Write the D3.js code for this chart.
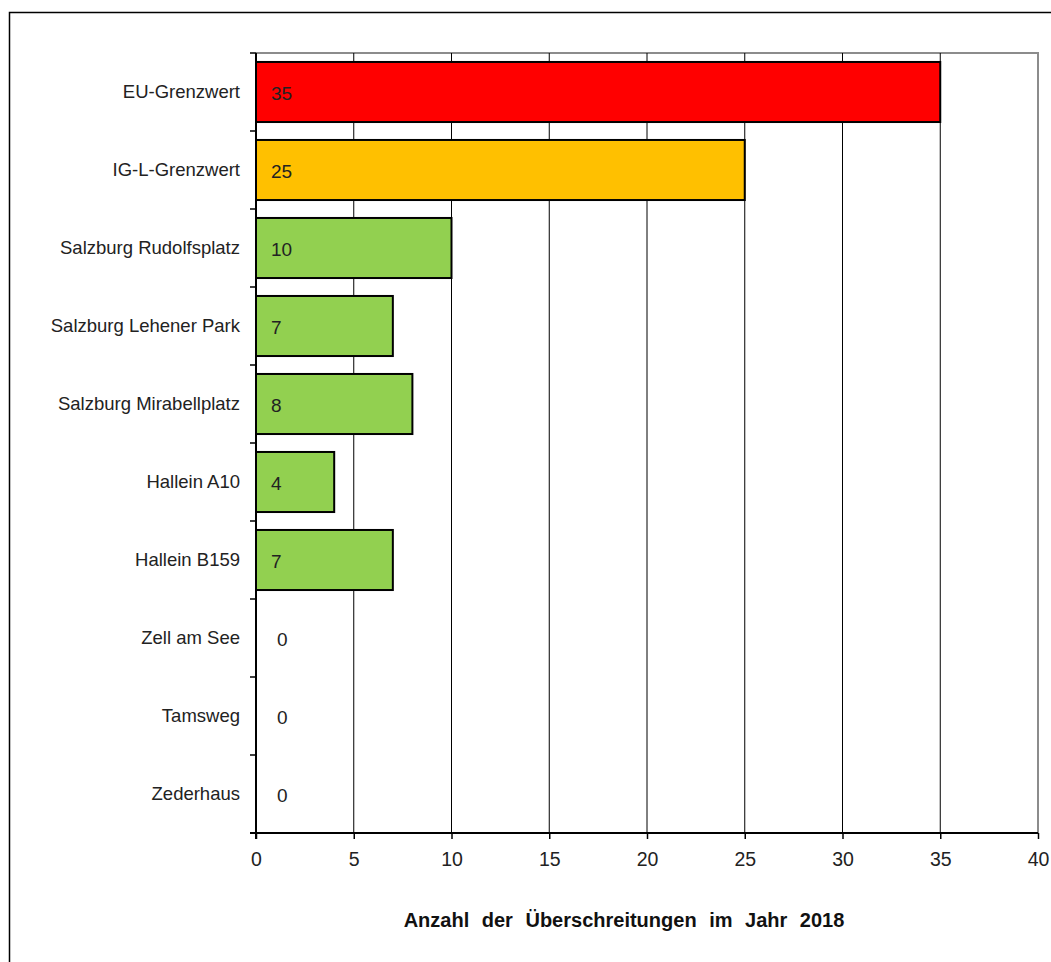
<!DOCTYPE html>
<html>
<head>
<meta charset="utf-8">
<script src="https://cdn.jsdelivr.net/npm/d3@7"></script>
<style>
  body { margin: 0; background: #fff; }
  svg text { font-family: "Liberation Sans", Arial, sans-serif; }
</style>
</head>
<body>
<div id="chart"></div>
<script>
const stations = ["EU-Grenzwert", "IG-L-Grenzwert", "Salzburg Rudolfsplatz", "Salzburg Lehener Park",
  "Salzburg Mirabellplatz", "Hallein A10", "Hallein B159", "Zell am See", "Tamsweg", "Zederhaus"];
const exceedances = [35, 25, 10, 7, 8, 4, 7, 0, 0, 0];
const barColors = ["#ff0000", "#ffc000", "#92d050", "#92d050", "#92d050", "#92d050", "#92d050", "#92d050", "#92d050", "#92d050"];
const xTicks = [0, 5, 10, 15, 20, 25, 30, 35, 40];

const width = 1051, height = 962;
const margin = { top: 53, right: 13, bottom: 129, left: 256 };

const svg = d3.select("#chart").append("svg")
  .attr("width", width)
  .attr("height", height);

// outer frame
svg.append("rect")
  .attr("x", 9.5).attr("y", 12.5)
  .attr("width", width + 10).attr("height", height + 10)
  .attr("fill", "none").attr("stroke", "#000").attr("stroke-width", 1.5);

const x = d3.scaleLinear().domain([0, 40]).range([margin.left, width - margin.right]);
const y = d3.scaleBand().domain(stations).range([margin.top, height - margin.bottom]).paddingInner(0.23).paddingOuter(0.115);
const band = d3.scaleBand().domain(stations).range([margin.top, height - margin.bottom]);

// plot frame (top + right in grey)
svg.append("path")
  .attr("d", `M${x(0)},${margin.top}H${x(40)}V${height - margin.bottom}`)
  .attr("fill", "none").attr("stroke", "#8c8c8c").attr("stroke-width", 2);

// vertical gridlines
svg.selectAll(".grid").data(xTicks.filter(t => t > 0 && t < 40))
  .join("line")
  .attr("x1", d => x(d)).attr("x2", d => x(d))
  .attr("y1", margin.top).attr("y2", height - margin.bottom)
  .attr("stroke", "#000").attr("stroke-width", 1);

// bars
const rows = stations.map((s, i) => ({ name: s, value: exceedances[i], color: barColors[i] }));
svg.selectAll(".bar").data(rows.filter(d => d.value > 0))
  .join("rect")
  .attr("x", x(0))
  .attr("y", d => y(d.name))
  .attr("width", d => x(d.value) - x(0))
  .attr("height", y.bandwidth())
  .attr("fill", d => d.color)
  .attr("stroke", "#000").attr("stroke-width", 2);

// value labels
svg.selectAll(".val").data(rows)
  .join("text")
  .attr("x", d => d.value > 0 ? x(0) + 15 : x(0) + 21)
  .attr("y", d => band(d.name) + band.bandwidth() / 2 + 1)
  .attr("dy", "0.35em")
  .attr("font-size", 19)
  .attr("fill", "#222")
  .text(d => d.value);

// y axis
const yAxis = svg.append("g");
yAxis.append("line")
  .attr("x1", x(0)).attr("x2", x(0))
  .attr("y1", margin.top).attr("y2", height - margin.bottom + 6)
  .attr("stroke", "#000").attr("stroke-width", 2);
yAxis.selectAll(".ytick").data(stations.concat(["end"]))
  .join("line")
  .attr("x1", x(0) - 6).attr("x2", x(0))
  .attr("y1", (d, i) => margin.top + i * band.step())
  .attr("y2", (d, i) => margin.top + i * band.step())
  .attr("stroke", "#000").attr("stroke-width", 1.5);
yAxis.selectAll(".ylab").data(stations)
  .join("text")
  .attr("x", 240)
  .attr("y", d => band(d) + band.bandwidth() / 2)
  .attr("dy", "0.35em")
  .attr("text-anchor", "end")
  .attr("font-size", 18.5)
  .attr("fill", "#222")
  .text(d => d);

// x axis
const xAxis = svg.append("g")
  .attr("transform", `translate(0,${height - margin.bottom})`)
  .call(d3.axisBottom(x).tickValues(xTicks).tickSize(6).tickPadding(13).tickSizeOuter(0));
xAxis.select(".domain").attr("stroke", "#000").attr("stroke-width", 2).attr("d", `M${x(0) - 6},0H${x(40)}`);
xAxis.selectAll(".tick line").attr("stroke", "#000").attr("stroke-width", 1.5);
xAxis.selectAll(".tick text")
  .attr("font-size", 19.5).attr("fill", "#222")
  .style("font-family", "'Liberation Sans', Arial, sans-serif");

// axis title
svg.append("text")
  .attr("x", 624).attr("y", 927)
  .attr("text-anchor", "middle")
  .attr("font-size", 20).attr("font-weight", "bold")
  .attr("fill", "#111")
  .style("word-spacing", "7px")
  .text("Anzahl der Überschreitungen im Jahr 2018");
</script>
</body>
</html>
